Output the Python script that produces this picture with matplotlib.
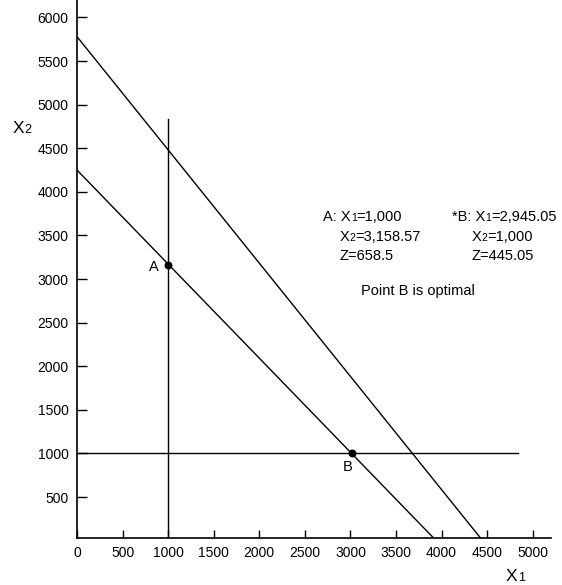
import matplotlib
matplotlib.use("Agg")
import matplotlib.pyplot as plt

# constraint lines (end points)
line1_x = [0, 4450]
line1_y = [5780, 0]
line2_x = [0, 3940]
line2_y = [4250, 0]
vert_x = [1000, 1000]
vert_y = [0, 4840]
horiz_x = [0, 4840]
horiz_y = [1000, 1000]

# corner points
pt_names = ["A", "B"]
pt_x = [1000, 3013]
pt_y = [3158.57, 1000]

xticks = [0, 500, 1000, 1500, 2000, 2500, 3000, 3500, 4000, 4500, 5000]
yticks = [500, 1000, 1500, 2000, 2500, 3000, 3500, 4000, 4500, 5000, 5500, 6000]

plt.rcParams["font.family"] = ["Liberation Sans", "DejaVu Sans"]

fig = plt.figure(figsize=(5.62, 5.85), dpi=100)
ax = fig.add_axes([0.137, 0.0803, 0.8434, 0.9197])
renderer = fig.canvas.get_renderer()


def rich(x, y, parts, xycoords="data"):
    """draw pieces of text one after another on a shared baseline"""
    dx = 0.0
    for s, size in parts:
        t = ax.annotate(s, xy=(x, y), xycoords=xycoords, xytext=(dx, 0),
                        textcoords="offset pixels", fontsize=size,
                        ha="left", va="baseline", annotation_clip=False)
        dx += t.get_window_extent(renderer).width


lw = 1.0
ax.plot(line1_x, line1_y, color="black", linewidth=lw)
ax.plot(line2_x, line2_y, color="black", linewidth=lw)
ax.plot(vert_x, vert_y, color="black", linewidth=lw)
ax.plot(horiz_x, horiz_y, color="black", linewidth=lw)
ax.scatter(pt_x, pt_y, color="black", s=22, zorder=3)

ax.annotate(pt_names[0], xy=(pt_x[0], pt_y[0]), xytext=(-9, -2), textcoords="offset pixels",
            fontsize=10.5, ha="right", va="center")
ax.annotate(pt_names[1], xy=(pt_x[1], pt_y[1]), xytext=(-4, -14), textcoords="offset pixels",
            fontsize=10.5, ha="center", va="center")

fs = 10.5
sub = 7.5
rich(2700, 3660, [("A: X", fs), ("1", sub), ("=1,000", fs)])
rich(2880, 3440, [("X", fs), ("2", sub), ("=3,158.57", fs)])
rich(2880, 3220, [("Z=658.5", fs)])
rich(4110, 3660, [("*B: X", fs), ("1", sub), ("=2,945.05", fs)])
rich(4330, 3440, [("X", fs), ("2", sub), ("=1,000", fs)])
rich(4330, 3220, [("Z=445.05", fs)])
rich(3120, 2820, [("Point B is optimal", fs)])

ax.set_xlim(0, 5200)
ax.set_ylim(30, 6200)
ax.set_xticks(xticks)
ax.set_yticks(yticks)
ax.tick_params(direction="in", length=7, width=1.0, labelsize=10, pad=6)
ax.tick_params(axis="x", length=6)

for s in ["top", "right"]:
    ax.spines[s].set_visible(False)
for s in ["left", "bottom"]:
    ax.spines[s].set_linewidth(1.2)

# axis names placed outside the axes, as in the source figure
rich(13, 585 - 133, [("X", 12.5), ("2", 9)], xycoords="figure pixels")
rich(506, 585 - 581, [("X", 12.5), ("1", 9)], xycoords="figure pixels")

fig.savefig("out.png", dpi=100)
